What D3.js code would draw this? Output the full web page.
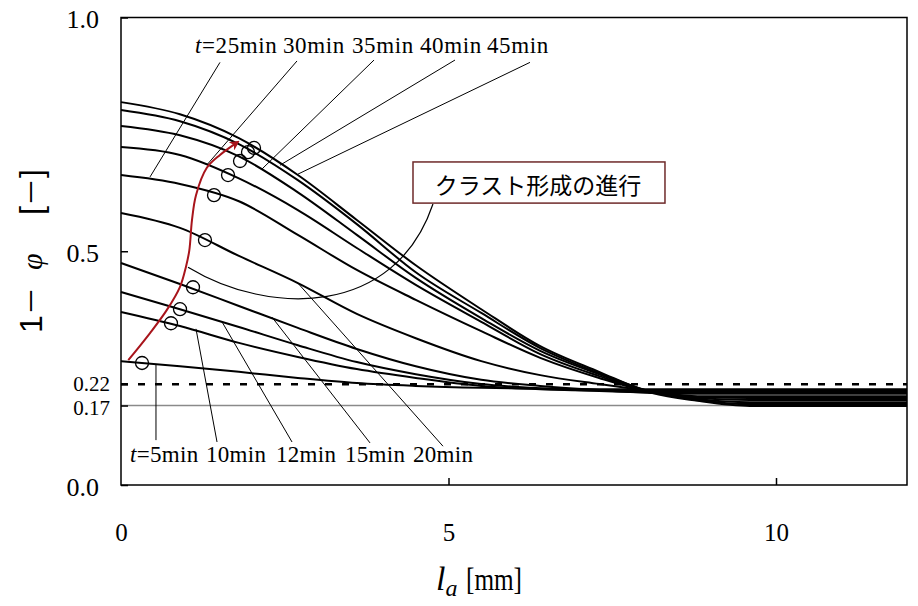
<!DOCTYPE html>
<html><head><meta charset="utf-8">
<script src="https://cdn.jsdelivr.net/npm/d3@7"></script>
<style>
body{margin:0;background:#fff}
.serif{font-family:"Liberation Serif","Times New Roman",serif}
.cjk{font-family:"Noto Sans CJK JP",sans-serif}
.sans{font-family:"Liberation Sans","Noto Sans CJK JP",sans-serif}
</style>
</head><body>
<svg id="c" width="918" height="606"></svg>
<script>
// ---- data ----
const xs = [0, 0.9, 1.8, 2.7, 3.6, 4.5, 5.5, 6.4, 7.3, 8.1, 8.8, 9.6, 10.4, 12];
const times = [5, 10, 12, 15, 20, 25, 30, 35, 40, 45];
const s05 = [0.265,0.254,0.242,0.229,0.218,0.212,0.208,0.206,0.205,0.205,0.205,0.205,0.205,0.205];
const s10 = [0.370,0.340,0.304,0.274,0.248,0.229,0.212,0.205,0.202,0.201,0.201,0.201,0.201,0.201];
const s12 = [0.413,0.376,0.338,0.299,0.263,0.237,0.216,0.207,0.201,0.198,0.198,0.198,0.198,0.198];
const s15 = [0.475,0.430,0.383,0.336,0.291,0.254,0.225,0.212,0.203,0.197,0.195,0.195,0.195,0.195];
const s20 = [0.582,0.550,0.490,0.432,0.366,0.314,0.265,0.235,0.216,0.201,0.190,0.190,0.190,0.190];
const s25 = [0.663,0.644,0.607,0.535,0.460,0.396,0.329,0.272,0.229,0.199,0.188,0.186,0.186,0.186];
const s30 = [0.723,0.706,0.656,0.588,0.507,0.428,0.349,0.280,0.233,0.199,0.186,0.182,0.182,0.182];
const s35 = [0.768,0.748,0.703,0.626,0.535,0.443,0.357,0.287,0.237,0.199,0.184,0.177,0.177,0.177];
const s40 = [0.802,0.778,0.729,0.652,0.558,0.455,0.368,0.293,0.239,0.199,0.182,0.173,0.173,0.173];
const s45 = [0.819,0.793,0.742,0.663,0.567,0.470,0.376,0.297,0.242,0.197,0.180,0.169,0.169,0.169];
const seriesValues = [s05, s10, s12, s15, s20, s25, s30, s35, s40, s45];

// crust front markers (circles)
const markX = [0.321, 0.763, 0.901, 1.099, 1.282, 1.420, 1.634, 1.817, 1.939, 2.031];
const markY = [0.261, 0.346, 0.376, 0.423, 0.524, 0.620, 0.663, 0.693, 0.712, 0.721];

// red arrow (progress of crust formation)
const arrowX = [0.111, 0.443, 0.698, 0.901, 0.992, 1.043, 1.084, 1.145, 1.308, 1.511, 1.786];
const arrowY = [0.267, 0.325, 0.374, 0.424, 0.467, 0.502, 0.567, 0.620, 0.678, 0.706, 0.734];

// reference lines
const refDashed = 0.22;
const refSolid = 0.17;

// axis ticks
const xTicks = [0, 5, 10];
const yTicks = [0, 0.5, 1.0];
const yRefTicks = [0.22, 0.17];

// label leaders: [fromX, fromY, toX, toY] (data units)
const topLabels = ["25min", "30min", "35min", "40min", "45min"];
const topLeaders = [[1.511,0.904,0.443,0.659],[2.687,0.907,1.313,0.685],[3.863,0.909,2.153,0.676],[5.099,0.909,2.427,0.684],[6.244,0.904,2.702,0.665]];
const bottomLabels = ["5min", "10min", "12min", "15min", "20min"];
const bottomLeaders = [[0.534,0.257,0.534,0.096],[1.145,0.334,1.466,0.092],[1.542,0.349,2.611,0.092],[2.305,0.359,3.802,0.090],[2.687,0.434,4.916,0.083]];

const calloutText = "クラスト形成の進行";

// ---- drawing ----
const svg = d3.select("#c");
const x = d3.scaleLinear().domain([0, 12]).range([121, 907]);
const y = d3.scaleLinear().domain([0, 1]).range([485, 17.5]);

svg.append("rect").attr("width", 918).attr("height", 606).attr("fill", "#fff");

// reference lines
svg.append("line").attr("x1", x(0)).attr("x2", x(12)).attr("y1", y(refSolid)).attr("y2", y(refSolid))
  .attr("stroke", "#8a8a8a").attr("stroke-width", 1.5);
svg.append("line").attr("x1", x(0)).attr("x2", x(12)).attr("y1", y(refDashed) + 2).attr("y2", y(refDashed) + 2)
  .attr("stroke", "#000").attr("stroke-width", 2.5).attr("stroke-dasharray", "7,10");

// curves
const line = d3.line().x((d, i) => x(xs[i])).y(d => y(d)).curve(d3.curveMonotoneX);
svg.append("g").selectAll("path").data(seriesValues).join("path")
  .attr("d", line).attr("fill", "none").attr("stroke", "#000").attr("stroke-width", 2);

// leaders
const leaders = svg.append("g").attr("stroke", "#000").attr("stroke-width", 1);
topLeaders.concat(bottomLeaders).forEach(l => {
  leaders.append("line").attr("x1", x(l[0])).attr("y1", y(l[1])).attr("x2", x(l[2])).attr("y2", y(l[3]));
});

// callout connector
const cp = d3.path();
cp.moveTo(x(4.763), y(0.601));
cp.bezierCurveTo(x(4.183), y(0.36), x(2.275), y(0.36), x(1.023), y(0.466));
svg.append("path").attr("d", cp.toString()).attr("fill", "none").attr("stroke", "#000").attr("stroke-width", 1.2);

// callout box
svg.append("rect").attr("x", x(4.458)).attr("y", y(0.691)).attr("width", x(8.305) - x(4.458)).attr("height", y(0.603) - y(0.691))
  .attr("fill", "#fff").attr("stroke", "#6e2a2a").attr("stroke-width", 1.5);
svg.append("text").attr("class", "cjk").attr("x", (x(4.458) + x(8.305)) / 2 - 1).attr("y", (y(0.691) + y(0.603)) / 2 + 1)
  .attr("text-anchor", "middle").attr("dominant-baseline", "central")
  .style("font-size", "23px").text(calloutText);

// circles
svg.append("g").selectAll("circle").data(markX).join("circle")
  .attr("cx", d => x(d)).attr("cy", (d, i) => y(markY[i])).attr("r", 6.5)
  .attr("fill", "none").attr("stroke", "#000").attr("stroke-width", 1.3);

// red arrow
svg.append("defs").append("marker").attr("id", "ah").attr("viewBox", "0 0 10 10")
  .attr("refX", 8).attr("refY", 5).attr("markerWidth", 10).attr("markerHeight", 10)
  .attr("markerUnits", "userSpaceOnUse").attr("orient", "auto")
  .append("path").attr("d", "M0,0 L10,5 L0,10 L3,5 z").attr("fill", "#a8141b");
const aline = d3.line().x((d, i) => x(arrowX[i])).y(d => y(d)).curve(d3.curveCatmullRom);
svg.append("path").attr("d", aline(arrowY)).attr("fill", "none").attr("stroke", "#a8141b")
  .attr("stroke-width", 2).attr("marker-end", "url(#ah)");

// frame
svg.append("rect").attr("x", x(0)).attr("y", y(1)).attr("width", x(12) - x(0)).attr("height", y(0) - y(1))
  .attr("fill", "none").attr("stroke", "#000").attr("stroke-width", 1.5);

// axes
const yAx = svg.append("g").attr("transform", `translate(${x(0)},0)`)
  .call(d3.axisLeft(y).tickValues(yTicks).tickFormat(d3.format(".1f")).tickSizeInner(-7).tickSizeOuter(0).tickPadding(22));
const yAx2 = svg.append("g").attr("transform", `translate(${x(0)},0)`)
  .call(d3.axisLeft(y).tickValues(yRefTicks).tickFormat(d3.format(".2f")).tickSizeInner(-7).tickSizeOuter(0).tickPadding(11));
const xAx = svg.append("g").attr("transform", `translate(0,${y(0)})`)
  .call(d3.axisBottom(x).tickValues(xTicks).tickFormat(d3.format("d")).tickSizeInner(-7).tickSizeOuter(0).tickPadding(38));
[yAx, yAx2, xAx].forEach(g => {
  g.attr("font-family", null).attr("font-size", null);
  g.select(".domain").remove();
  g.selectAll("line").attr("stroke", "#000").attr("stroke-width", 1.5);
  g.selectAll("text").attr("class", "serif").attr("fill", "#000");
});
yAx.selectAll("text").style("font-size", "26px").attr("dy", "0.4em");
yAx2.selectAll("text").style("font-size", "21px").attr("dy", "0.35em")
  .attr("y", d => d === 0.22 ? 1 : 2);
xAx.selectAll("text").style("font-size", "25px");
xAx.selectAll("line").filter(d => d === 0).remove();
yAx2.selectAll("line").filter(d => d === 0.22).attr("transform", "translate(0,2)");

// time labels
const topX = [195, 283, 352, 420, 487];
topLabels.forEach((lab, i) => {
  const t = svg.append("text").attr("class", "serif").attr("x", topX[i]).attr("y", 53)
    .style("font-size", "23px").style("letter-spacing", "0.6px");
  if (i === 0) { t.append("tspan").style("font-style", "italic").text("t"); t.append("tspan").text("=" + lab); }
  else t.text(lab);
});
const botX = [130, 206, 276, 345, 413];
bottomLabels.forEach((lab, i) => {
  const t = svg.append("text").attr("class", "serif").attr("x", botX[i]).attr("y", 462)
    .style("font-size", "23px").style("letter-spacing", "0.3px");
  if (i === 0) { t.append("tspan").style("font-style", "italic").text("t"); t.append("tspan").text("=" + lab); }
  else t.text(lab);
});

// axis titles
const yt = svg.append("text").attr("class", "sans").attr("transform", "translate(42,333) rotate(-90)").style("font-size", "32px");
yt.append("tspan").attr("x", 0).text("1");
yt.append("tspan").attr("class", "cjk").attr("x", 18).style("font-size", "28px").text("－");
yt.append("tspan").attr("class", "serif").attr("x", 63).style("font-style", "italic").style("font-size", "30px").text("φ");
yt.append("tspan").attr("x", 118).text("[");
yt.append("tspan").attr("class", "cjk").style("font-size", "28px").text("－");
yt.append("tspan").text("]");

const xt = svg.append("text").attr("class", "serif").attr("x", 436).attr("y", 590).style("font-size", "34px");
xt.append("tspan").style("font-style", "italic").text("l");
xt.append("tspan").style("font-style", "italic").style("font-size", "24px").attr("dy", 6).text("a");
xt.append("tspan").attr("x", 466).attr("dy", -6).style("font-size", "32px").attr("textLength", 56).attr("lengthAdjust", "spacingAndGlyphs").text("[mm]");
</script>
</body></html>
